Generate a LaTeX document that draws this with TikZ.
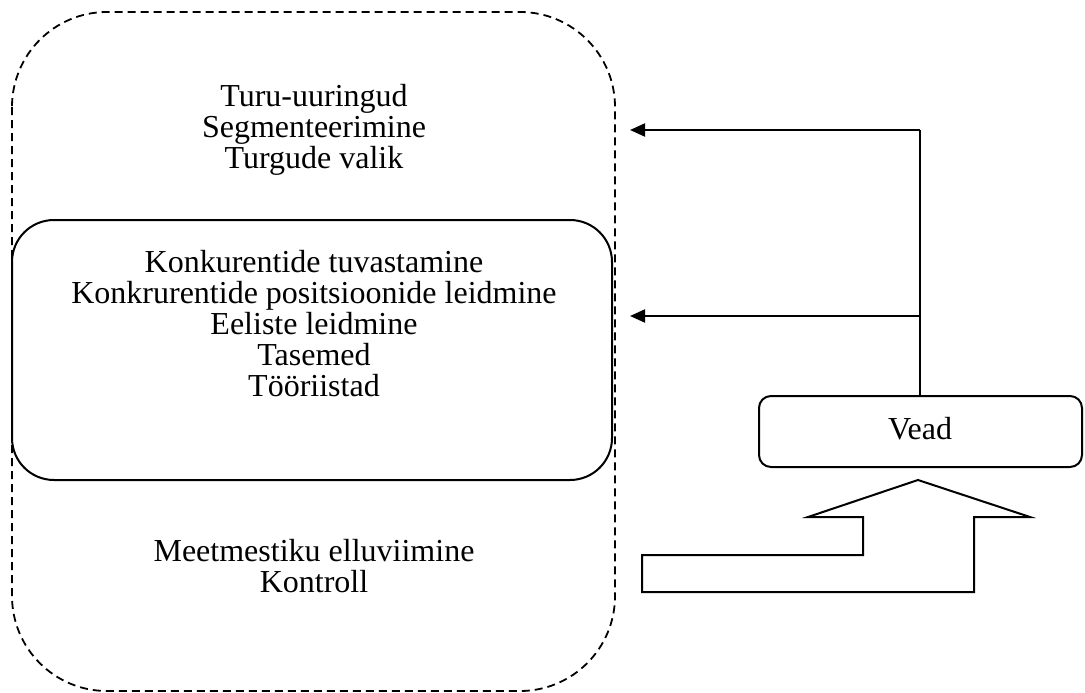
\documentclass[tikz,border=0pt]{standalone}
\usepackage{fontspec}
\setmainfont{Liberation Serif}
\usetikzlibrary{arrows.meta}
\begin{document}
\begin{tikzpicture}[x=1pt,y=-1pt,
  txt/.style={align=center,font=\fontsize{32}{31}\selectfont,inner sep=0pt},
  outline/.style={line width=2pt},
  link/.style={line width=2pt,-{Triangle[length=15pt,width=13pt]}}]
\useasboundingbox (0,0) rectangle (1085,693);
% dashed outer area
\draw[line width=1.8pt,dash pattern=on 8pt off 5pt,rounded corners=95pt] (12,12) rectangle (615,691);
% solid inner box
\draw[outline,rounded corners=42pt] (12,220) rectangle (612,480);
\node[txt] (top) at (314,130) {Turu-uuringud\\Segmenteerimine\\Turgude valik};
\node[txt] (mid) at (314,324) {Konkurentide tuvastamine\\Konkrurentide positsioonide leidmine\\Eeliste leidmine\\Tasemed\\Tööriistad};
\node[txt] (bot) at (314,566) {Meetmestiku elluviimine\\Kontroll};
% errors box
\node[draw,outline,rounded corners=12pt,minimum width=323pt,minimum height=71pt,
      inner sep=0pt] (vead) at (920.5,431.5) {};
\node[txt] (veadlbl) at (920,429) {Vead};
% feedback arrows
\coordinate (turn) at (920,130);
\coordinate (t1) at (630,130);
\coordinate (t2) at (630,316);
\draw[outline] (vead.north -| turn) -- (turn);
\draw[link] (turn) -- (t1);
\draw[link] (turn |- t2) -- (t2);
% block arrow
\draw[outline,line join=miter] (642,555) -- (863,555) -- (863,517) -- (808,517) -- (918,480)
  -- (1030,517) -- (974,517) -- (974,592) -- (642,592) -- cycle;
\end{tikzpicture}
\end{document}
